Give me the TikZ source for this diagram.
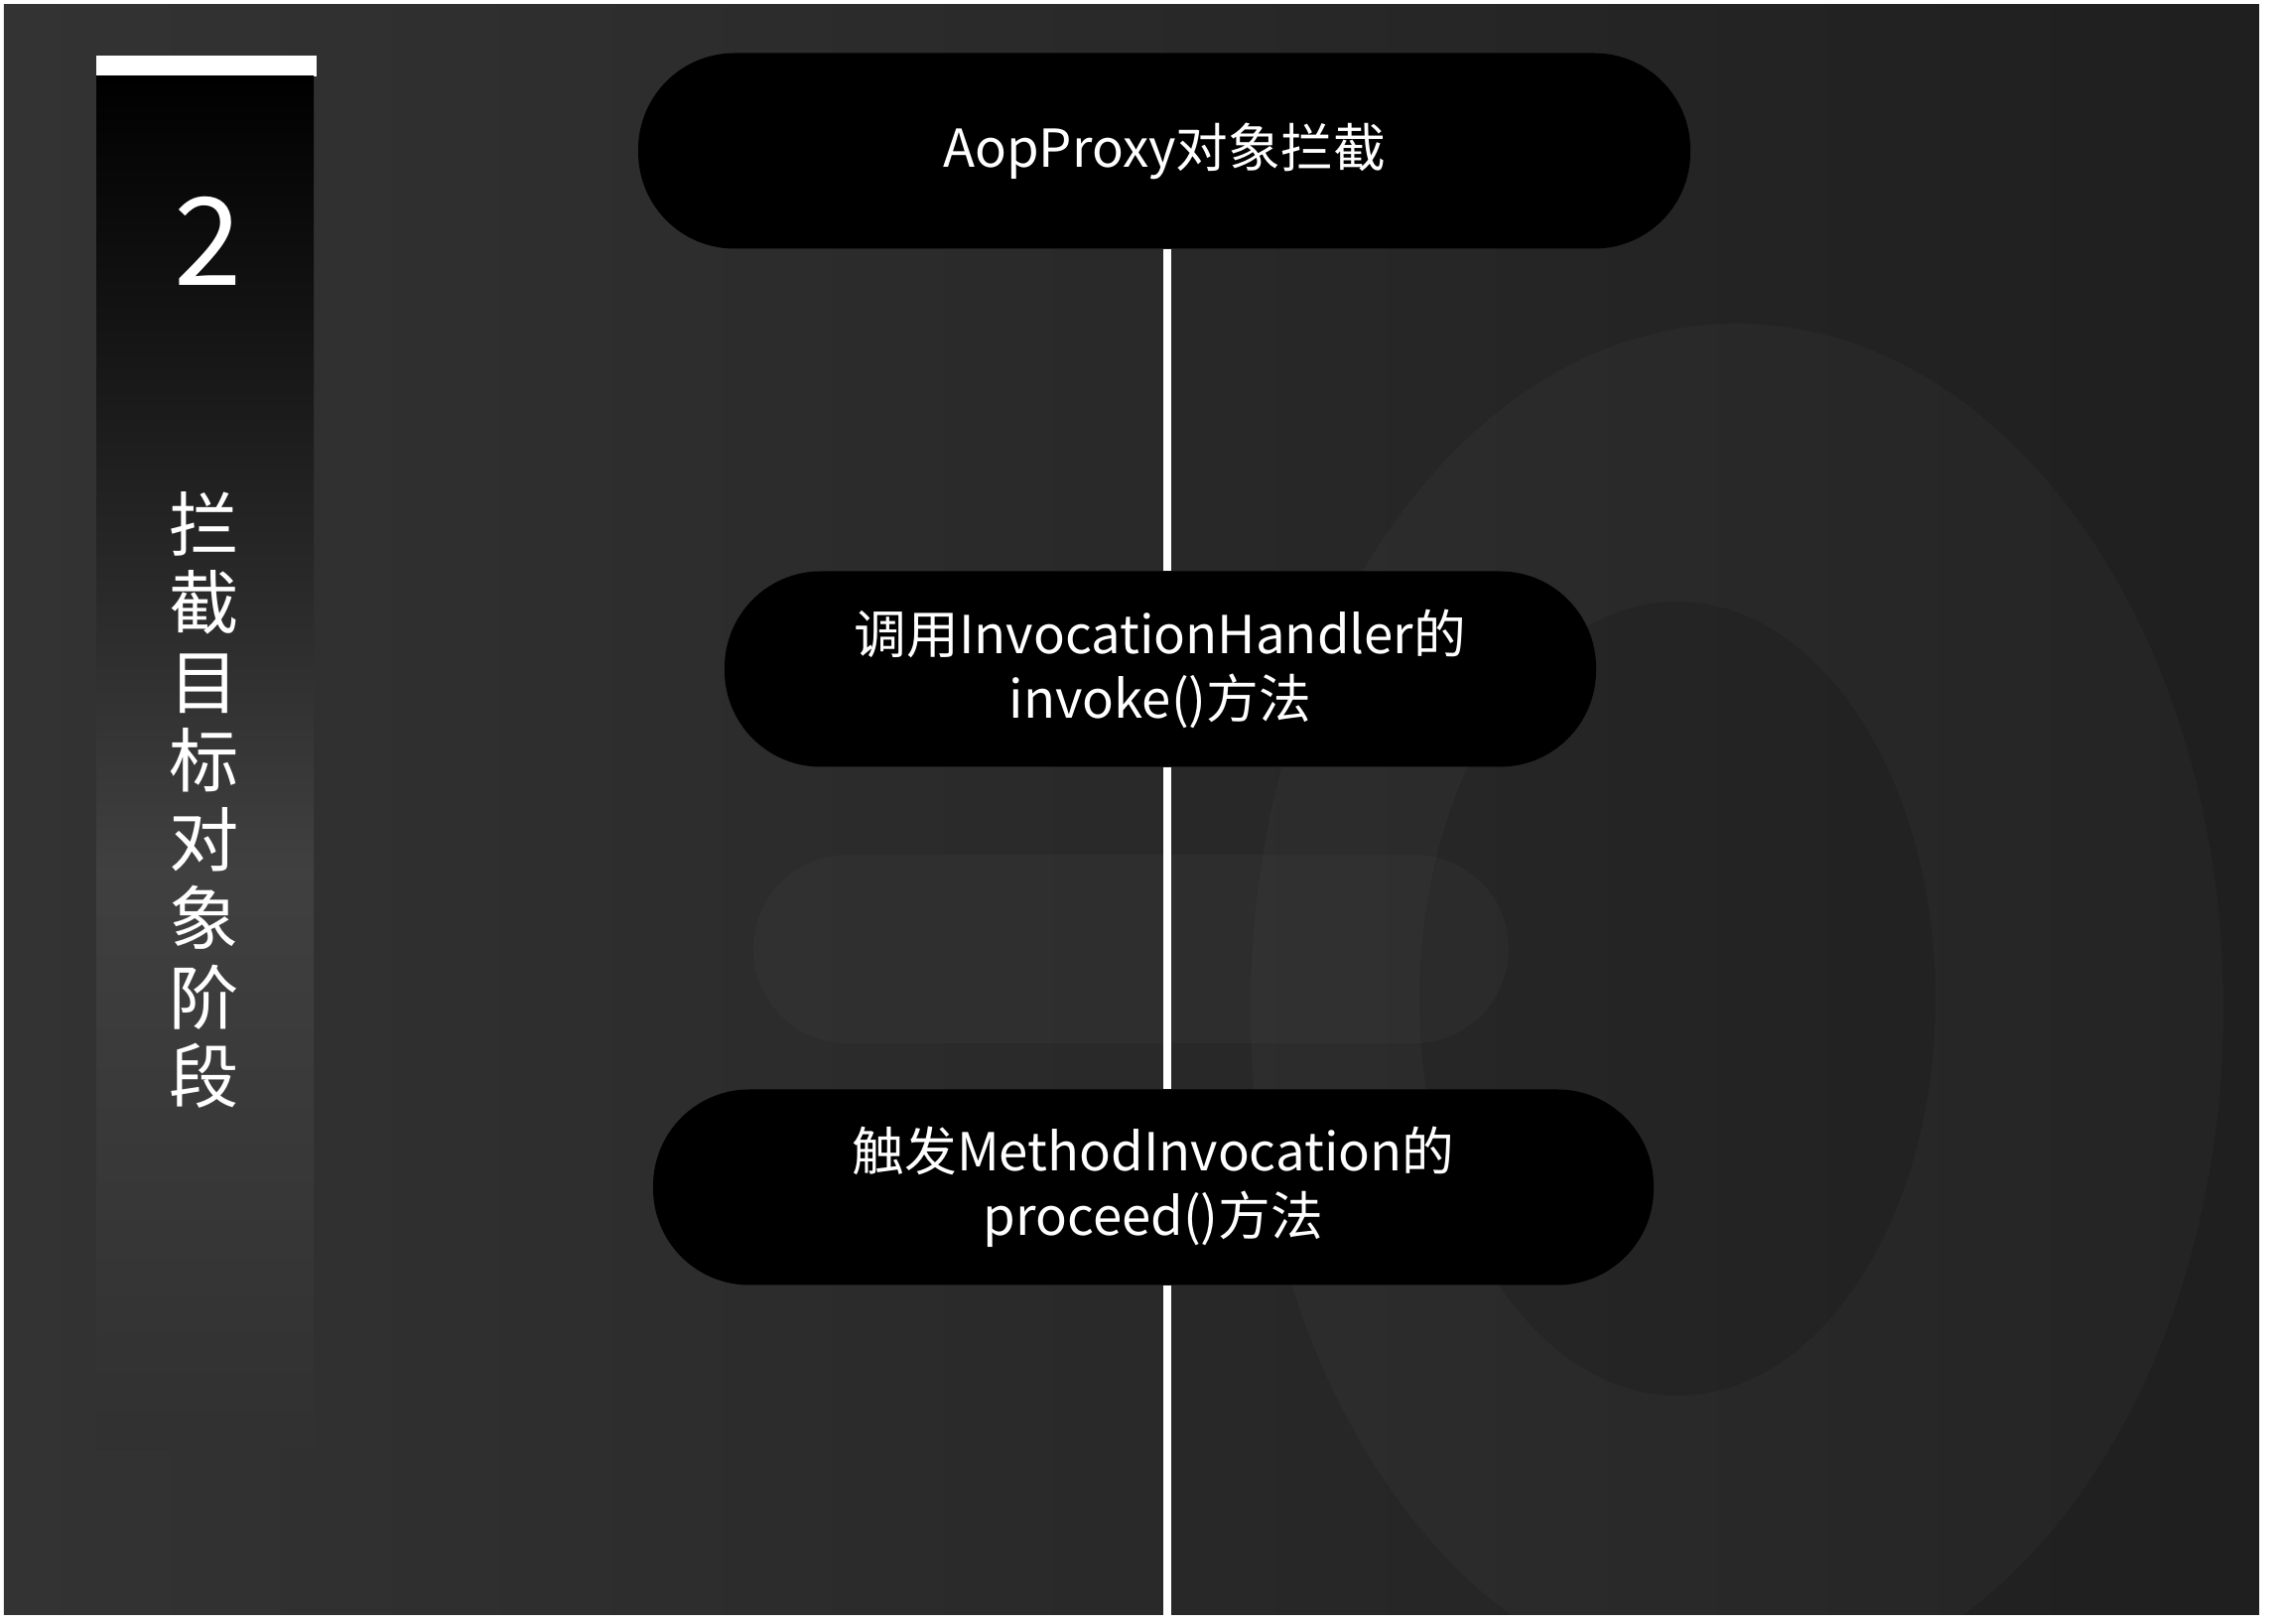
\documentclass[tikz,border=0pt]{standalone}
\usepackage{fontspec}
\setmainfont{Noto Sans CJK SC}
\usetikzlibrary{positioning}

\begin{document}
\begin{tikzpicture}[
        % 画布比例:1cm 对应原图 100px
        panel/.style={left color=black!80, right color=black!88},
        glow/.style={fill=white, fill opacity=0.025},
        stage/.style={rectangle, rounded corners=0.97cm, fill=black, text=white,
            minimum height=1.97cm, inner sep=0pt, align=center,
            font=\fontsize{15}{18.5}\selectfont},
        spine/.style={draw=white, line width=2.3pt},
        tabNum/.style={text=white, font=\fontsize{35}{40}\selectfont},
        tabText/.style={text=white, align=center, font=\fontsize{20}{22.6}\selectfont}
    ]

        % --- 参数定义 ---
        \def\pageW{22.88}   % 画布宽
        \def\pageH{16.36}   % 画布高
        \def\spineX{11.76}  % 竖线位置

        \useasboundingbox (0,0) rectangle (\pageW,\pageH);

        % --- 1. 深色背景 ---
        \shade[panel] (0.04,0.09) rectangle (22.76,16.31);
        \begin{scope}
            \clip (0.04,0.09) rectangle (22.76,16.31);
            \fill[glow, even odd rule] (17.5,6.2) ellipse (4.9 and 6.9)
                (16.9,6.3) ellipse (2.6 and 4.0);
            \fill[glow, rounded corners=0.95cm] (7.59,5.85) rectangle (15.2,7.75);
        \end{scope}

        % --- 2. 左侧阶段标签 ---
        \fill[white] (0.97,15.59) rectangle (3.19,15.80);
        \shade[top color=black, bottom color=black!75] (0.97,15.59) rectangle (3.16,7.61);
        \shade[top color=black!75, bottom color=black!81] (0.97,7.61) rectangle (3.16,1.76);
        \node[tabNum] (num) at (2.10,13.93) {2};
        \node[tabText] (phase) at (2.06,8.30) {拦\\截\\目\\标\\对\\象\\阶\\段};

        % --- 3. 三个步骤 ---
        \node[stage, minimum width=10.60cm] (proxy) at (11.73,14.84) {AopProxy对象拦截};
        \node[stage, minimum width=8.78cm] (handler) at (11.69,9.62)
            {调用InvocationHandler的\\invoke()方法};
        \node[stage, minimum width=10.08cm] (invocation) at (11.62,4.40)
            {触发MethodInvocation的\\proceed()方法};

        % --- 4. 竖线连接 ---
        \coordinate (spineEnd) at (\spineX,0.09);
        \draw[spine] (proxy.south -| spineEnd) -- (handler.north -| spineEnd);
        \draw[spine] (handler.south -| spineEnd) -- (invocation.north -| spineEnd);
        \draw[spine] (invocation.south -| spineEnd) -- (spineEnd);

    \end{tikzpicture}
\end{document}
